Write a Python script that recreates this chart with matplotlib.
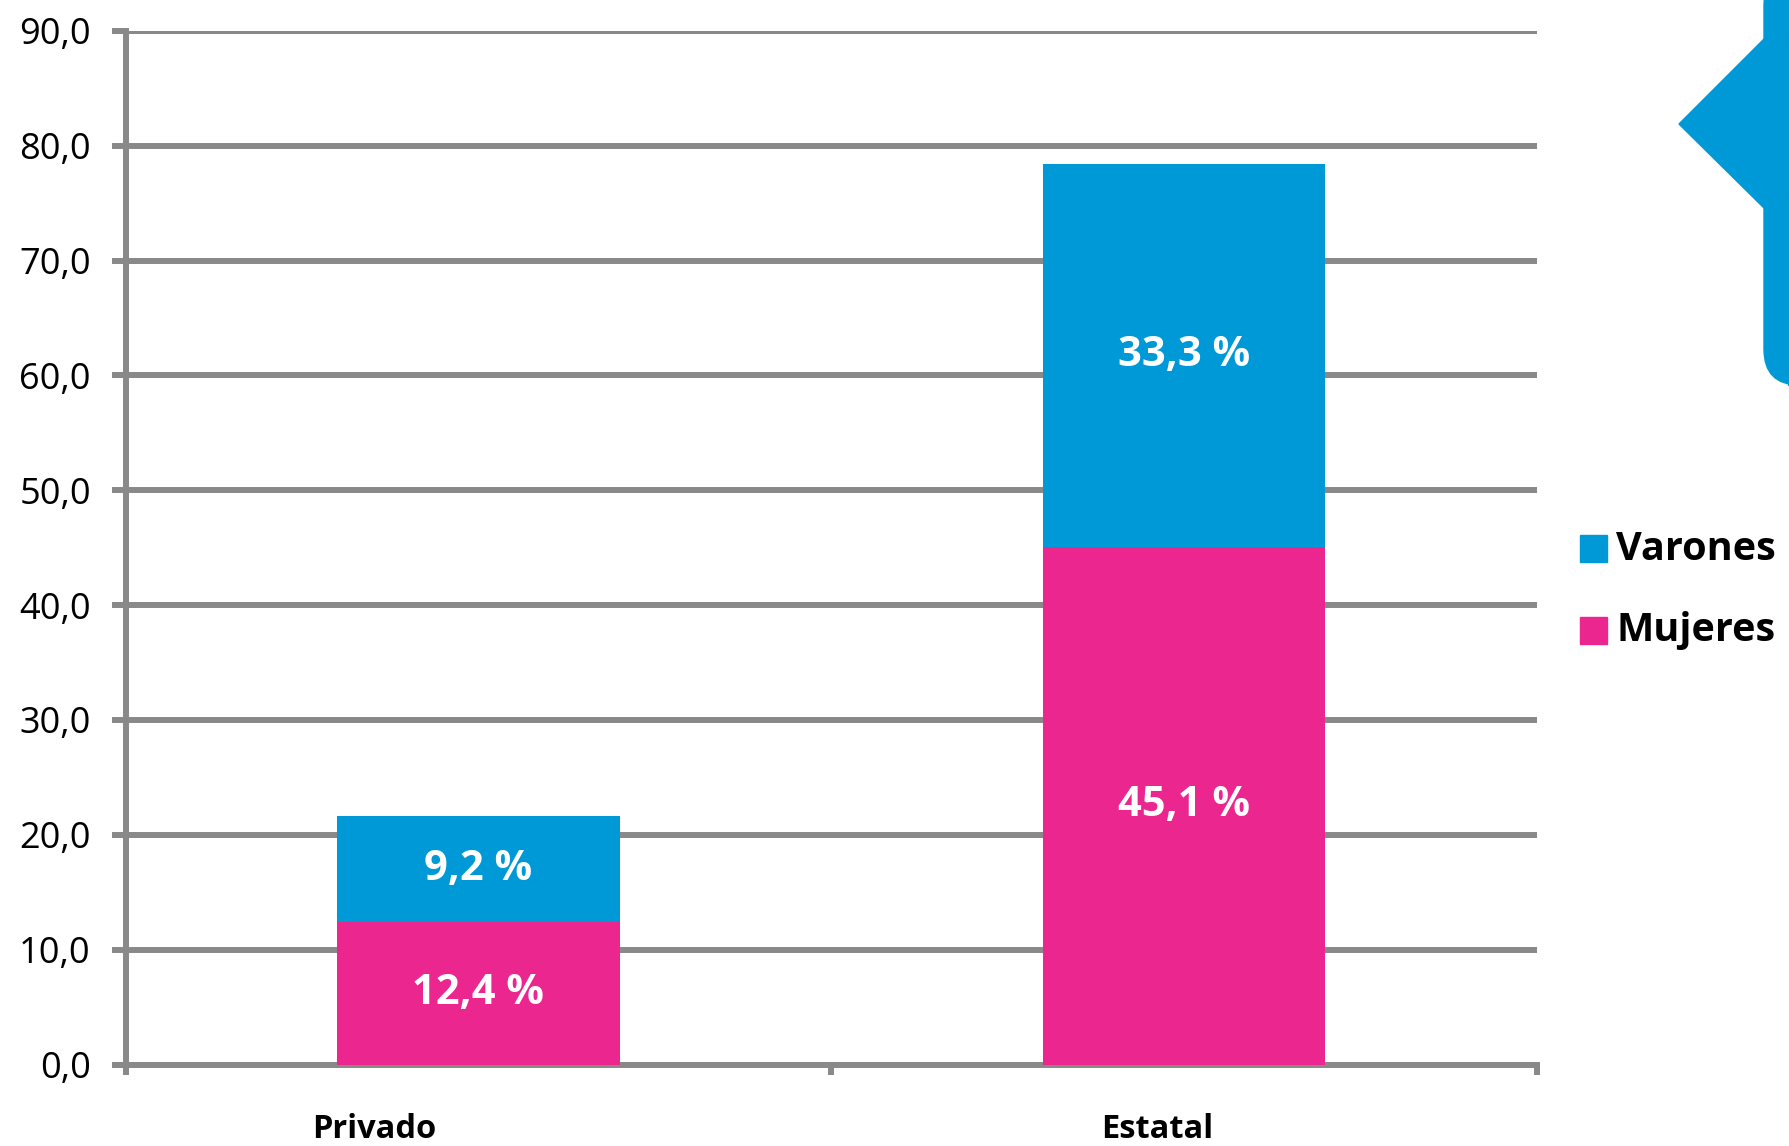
import matplotlib.pyplot as plt
from matplotlib.patches import Rectangle, Polygon, FancyBboxPatch

# data
categorias = ["Privado", "Estatal"]
mujeres = [12.4, 45.1]
varones = [9.2, 33.3]
y_ticks = [0, 10, 20, 30, 40, 50, 60, 70, 80, 90]

AZUL = "#0099D8"
ROSA = "#EC268F"
GRIS = "#898989"
FONT = "Open Sans"

W, H = 1789, 1146
fig = plt.figure(figsize=(W / 100, H / 100), dpi=100)
fig.patch.set_facecolor("white")


def fx(px):
    return px / W


def fy(py):
    return 1 - py / H


ax = fig.add_axes([fx(125.5), fy(1064.6), fx(1537) - fx(125.5), fy(30.8) - fy(1064.6)])

pos = list(range(len(categorias)))
ax.bar(pos, mujeres, width=0.4, color=ROSA, zorder=3)
ax.bar(pos, varones, width=0.4, bottom=mujeres, color=AZUL, zorder=3)

# value labels inside the bars
for i in pos:
    ax.text(i, mujeres[i] / 2, f"{mujeres[i]:.1f} %".replace(".", ","), ha="center", va="center",
            color="white", fontsize=30, fontweight="bold", family=FONT, zorder=4)
    ax.text(i, mujeres[i] + varones[i] / 2, f"{varones[i]:.1f} %".replace(".", ","), ha="center",
            va="center", color="white", fontsize=30, fontweight="bold", family=FONT, zorder=4)

ax.set_xlim(-0.5, 1.5)
ax.set_ylim(0, 90)
ax.set_yticks(y_ticks)
ax.set_yticklabels([f"{v:.1f}".replace(".", ",") for v in y_ticks], fontsize=26, family=FONT)
ax.set_xticks([-0.5, 0.5, 1.5])
ax.set_xticklabels([])
ax.yaxis.grid(True, color=GRIS, linewidth=4.3, zorder=0)
ax.set_axisbelow(True)
for s in ["top", "right"]:
    ax.spines[s].set_visible(False)
for s in ["left", "bottom"]:
    ax.spines[s].set_color(GRIS)
    ax.spines[s].set_linewidth(4.3)
ax.tick_params(axis="y", colors=GRIS, length=10, width=4.3, pad=15, labelcolor="black")
ax.tick_params(axis="x", colors=GRIS, length=7, width=4.3)

# category labels (sitting left of the bar centres, as in the original)
cat_x = [-0.148, 0.962]
for x, c in zip(cat_x, categorias):
    ax.text(x, -0.063, c, transform=ax.get_xaxis_transform(), ha="center", va="center",
            fontsize=23.5, fontweight="bold", family=FONT)

# legend, drawn by hand
for py, col, lab in [(549, AZUL, "Varones"), (630, ROSA, "Mujeres")]:
    fig.add_artist(Rectangle((fx(1580), fy(py + 13.5)), fx(27), 27 / H, color=col,
                             transform=fig.transFigure))
    fig.text(fx(1616), fy(py), lab, ha="left", va="center", fontsize=28.5,
             fontweight="bold", family=FONT)

# blue decoration in the top right corner
fig.add_artist(FancyBboxPatch((fx(1764), fy(385)), fx(60), fy(-30) - fy(385),
                              boxstyle="round,pad=0,rounding_size=0.02",
                              color=AZUL, transform=fig.transFigure, mutation_aspect=W / H))
fig.add_artist(Polygon([(fx(1765), fy(38)), (fx(1679), fy(124)), (fx(1765), fy(209))],
                       closed=True, color=AZUL, transform=fig.transFigure))

fig.savefig("out.png", dpi=100)
